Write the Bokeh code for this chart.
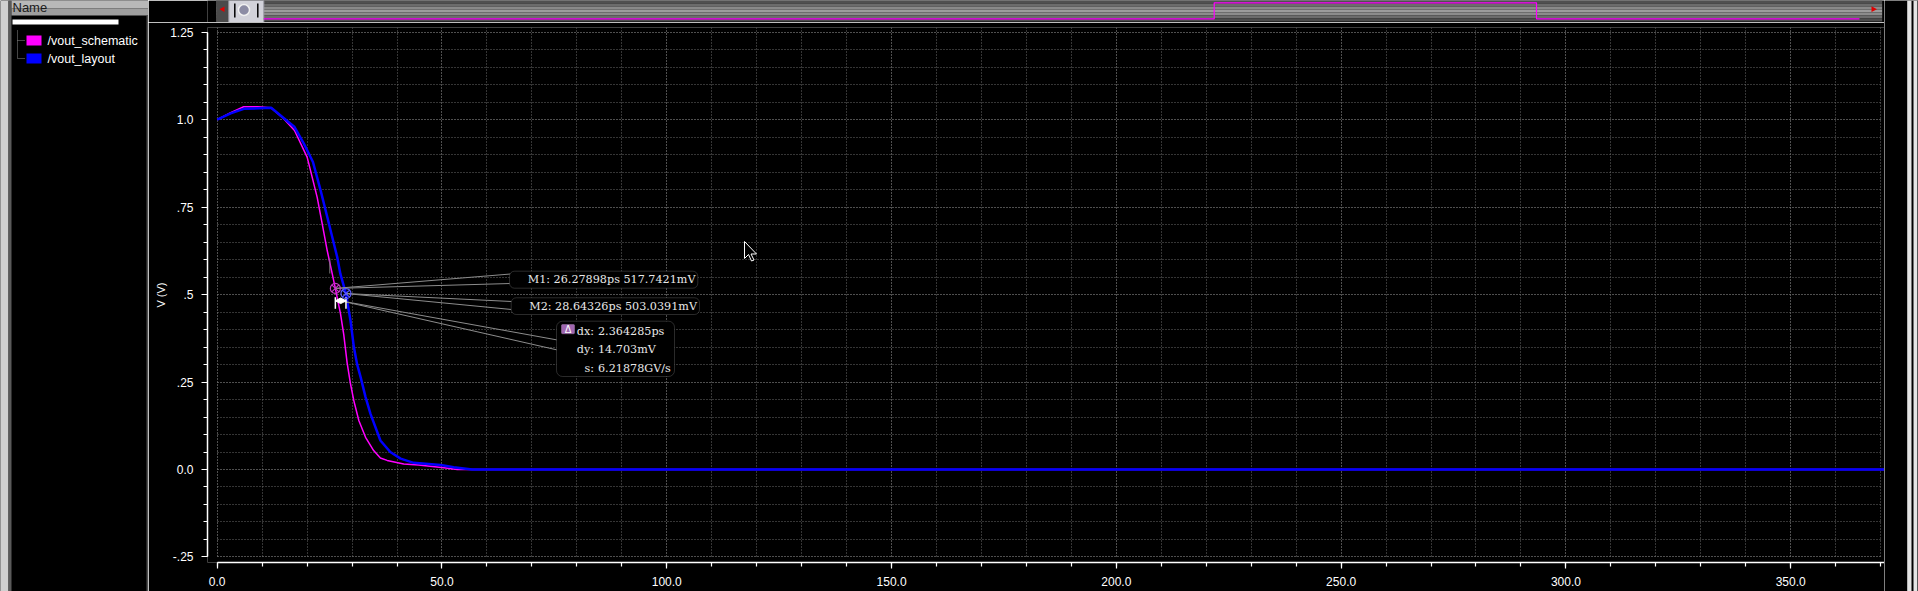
from bokeh.plotting import figure
from bokeh.layouts import row, column
from bokeh.models import Range1d, FixedTicker, BoxAnnotation, Label
from bokeh.embed import file_html
from bokeh.resources import INLINE

# ---------------- data ----------------
series_names = ["/vout_schematic", "/vout_layout"]
series_colors = ["#ff00ff", "#0000ff"]

t_schematic = [0.0, 3.0, 5.9, 9.0, 12.0, 14.8, 17.2, 20.0, 20.75, 22.24, 23.36, 24.47, 25.58, 26.28,
               27.43, 28.16, 28.9, 29.65, 30.39, 31.5, 33.0, 34.8, 36.3, 37.8, 41.5, 44.8, 50.4, 53.4, 371.0]
v_schematic = [1.0, 1.02, 1.037, 1.037, 1.034, 1.003, 0.969, 0.893, 0.855, 0.778, 0.702, 0.626, 0.560, 0.518,
               0.445, 0.385, 0.305, 0.245, 0.197, 0.140, 0.092, 0.054, 0.033, 0.026, 0.016, 0.013, 0.005, 0.0, 0.0]

t_layout = [0.0, 3.0, 5.9, 12.0, 17.2, 19.3, 21.3, 23.0, 24.5, 25.6, 26.7, 27.4, 28.64, 29.65, 30.4, 31.1,
            31.9, 33.0, 34.1, 36.3, 38.5, 40.8, 43.7, 49.7, 52.6, 56.7, 371.0]
v_layout = [1.0, 1.018, 1.031, 1.034, 0.979, 0.931, 0.879, 0.798, 0.721, 0.664, 0.607, 0.559, 0.503, 0.426,
            0.350, 0.302, 0.264, 0.207, 0.159, 0.083, 0.050, 0.031, 0.019, 0.013, 0.0066, 0.0, 0.0]

marker_t = [26.27898, 28.64326]
marker_v = [0.5177421, 0.5030391]
marker_labels = ["M1: 26.27898ps 517.7421mV", "M2: 28.64326ps 503.0391mV"]
delta_keys = ["dx:", "dy:", "s:"]
delta_vals = ["2.364285ps", "14.703mV", "6.21878GV/s"]

x_major = [0, 50, 100, 150, 200, 250, 300, 350]
x_labels = ["0.0", "50.0", "100.0", "150.0", "200.0", "250.0", "300.0", "350.0"]
x_minor = [0, 10, 20, 30, 40, 50, 60, 70, 80, 90, 100, 110, 120, 130, 140, 150, 160, 170, 180, 190,
           200, 210, 220, 230, 240, 250, 260, 270, 280, 290, 300, 310, 320, 330, 340, 350, 360, 370]
y_major = [-0.25, 0.0, 0.25, 0.5, 0.75, 1.0, 1.25]
y_labels = ["-.25", "0.0", ".25", ".5", ".75", "1.0", "1.25"]
y_minor = [-0.25, -0.2, -0.15, -0.1, -0.05, 0.0, 0.05, 0.1, 0.15, 0.2, 0.25, 0.3, 0.35, 0.4, 0.45, 0.5,
           0.55, 0.6, 0.65, 0.7, 0.75, 0.8, 0.85, 0.9, 0.95, 1.0, 1.05, 1.1, 1.15, 1.2, 1.25]
y_axis_label = "V (V)"

# ---------------- layout constants (page pixels) ----------------
TOTAL_W, TOTAL_H = 1918, 591
LEFT_W = 148
FRAME_L, FRAME_R = 207, 1884
RIGHT_W = TOTAL_W - FRAME_R
MAIN_W = FRAME_R - LEFT_W
STRIP_H = 22
MAIN_H = TOTAL_H - STRIP_H
B_L, B_R, B_T, B_B = FRAME_L - LEFT_W, 0, 5, 29
FRAME_W = MAIN_W - B_L - B_R
FRAME_H = MAIN_H - B_T - B_B
PX_PER_PS = 4.4957
PX_PER_V = 349.8
X_ZERO_PX = 216.7
Y_ZERO_PX = 469.0
X0 = (FRAME_L - X_ZERO_PX) / PX_PER_PS
X1 = X0 + FRAME_W / PX_PER_PS
FRAME_B = STRIP_H + B_T + FRAME_H
Y0 = (Y_ZERO_PX - FRAME_B) / PX_PER_V
Y1 = Y0 + FRAME_H / PX_PER_V
SX = PX_PER_PS
SY = PX_PER_V

SERIF = "DejaVu Serif"
SANS = "Liberation Sans"


def ref_xy(px, py):
    # page pixel -> data coordinates (annotation placement only)
    return ((px - X_ZERO_PX) / PX_PER_PS, (Y_ZERO_PX - py) / PX_PER_V)


def js_key(v):
    f = float(v)
    return str(int(f)) if f.is_integer() else repr(f)


def overrides(ticks, labels):
    d = {}
    for t, l in zip(ticks, labels):
        d[float(t)] = l
        d[js_key(t)] = l
    return d


def rbox(fig, radius, **kw):
    try:
        b = BoxAnnotation(border_radius=radius, **kw)
    except Exception:
        b = BoxAnnotation(**kw)
    fig.add_layout(b)
    return b


def blank(width, height, xr, yr, left=0):
    return figure(width=width, height=height, x_range=Range1d(*xr), y_range=Range1d(*yr),
                  x_axis_type=None, y_axis_type=None, output_backend="svg", toolbar_location=None,
                  tools="", min_border=0, min_border_left=left, min_border_right=0,
                  min_border_top=0, min_border_bottom=0,
                  background_fill_color="black", border_fill_color="black", outline_line_color=None)


# ---------------- main plot ----------------
p = figure(width=MAIN_W, height=MAIN_H, x_range=Range1d(X0, X1), y_range=Range1d(Y0, Y1),
           output_backend="svg", toolbar_location=None, tools="",
           min_border_left=B_L, min_border_right=B_R, min_border_top=B_T, min_border_bottom=B_B,
           background_fill_color="black", border_fill_color="black", outline_line_color=None)

xa = p.xaxis[0]
ya = p.yaxis[0]
xa.ticker = FixedTicker(ticks=x_major, minor_ticks=x_minor)
ya.ticker = FixedTicker(ticks=y_major, minor_ticks=y_minor)
xa.major_label_overrides = overrides(x_major, x_labels)
ya.major_label_overrides = overrides(y_major, y_labels)
for ax in (xa, ya):
    ax.axis_line_color = "white"
    ax.axis_line_width = 1.5
    ax.major_tick_line_color = "white"
    ax.minor_tick_line_color = "white"
    ax.major_tick_line_width = 1.2
    ax.minor_tick_line_width = 1.2
    ax.major_tick_in = 0
    ax.major_tick_out = 6
    ax.minor_tick_in = 0
    ax.minor_tick_out = 4
    ax.major_label_text_color = "white"
    ax.major_label_text_font = SANS
    ax.major_label_text_font_size = "12px"
    ax.major_label_standoff = 8
xa.bounds = (0, X1)
ya.bounds = (-0.25, 1.25)
ya.axis_label = y_axis_label
ya.axis_label_text_color = "white"
ya.axis_label_text_font = SANS
ya.axis_label_text_font_size = "11px"
ya.axis_label_text_font_style = "normal"
ya.axis_label_standoff = 0

for g in (p.xgrid[0], p.ygrid[0]):
    g.grid_line_color = "#6a6a6a"
    g.grid_line_dash = "1 2"
    g.grid_line_width = 1
    g.minor_grid_line_color = "#6a6a6a"
    g.minor_grid_line_dash = "1 2"
    g.minor_grid_line_width = 1
p.xgrid[0].bounds = (0, 370)
p.ygrid[0].bounds = (-0.25, 1.25)
try:
    p.xgrid[0].cross_bounds = (-0.25, Y1)
    p.ygrid[0].cross_bounds = (0, 370)
except Exception:
    pass

# waveforms
p.line(t_schematic, v_schematic, line_color=series_colors[0], line_width=1.5)
p.line(t_layout, v_layout, line_color=series_colors[1], line_width=2.5)

# small grey stub left of the markers
gx, gy0 = ref_xy(329.3, 258.0)
_, gy1 = ref_xy(329.3, 273.0)
p.segment(x0=[gx], y0=[gy0], x1=[gx], y1=[gy1], line_color="#7a7a7a", line_width=1)

# leader lines
lead_x0, lead_y0, lead_x1, lead_y1 = [], [], [], []
for (mx, my), ends in zip(zip(marker_t, marker_v),
                          [[(510, 273.5), (510, 283.0)], [(511, 301.0), (511, 309.0)]]):
    for ex, ey in ends:
        dx, dy = ref_xy(ex, ey)
        lead_x0.append(mx); lead_y0.append(my); lead_x1.append(dx); lead_y1.append(dy)
ox, oy = ref_xy(341.0, 300.5)
for ex, ey in [(557, 339.5), (557, 349.5)]:
    dx, dy = ref_xy(ex, ey)
    lead_x0.append(ox); lead_y0.append(oy); lead_x1.append(dx); lead_y1.append(dy)
p.segment(x0=lead_x0, y0=lead_y0, x1=lead_x1, y1=lead_y1, line_color="#8c8c8c", line_width=1)

# white delta tick marks and diamond
_, tk_top = ref_xy(0, 296.7)
_, tk_bot = ref_xy(0, 308.3)
p.segment(x0=marker_t, y0=[tk_top] * 2, x1=marker_t, y1=[tk_bot] * 2, line_color="white", line_width=1.5)
_, dm_y = ref_xy(0, 300.3)
dm_x = sum(marker_t) / 2
p.patch([dm_x - 5.5 / SX, dm_x, dm_x + 5.5 / SX, dm_x],
        [dm_y, dm_y + 2.8 / SY, dm_y, dm_y - 2.8 / SY], fill_color="white", line_color="white")

# marker circles
p.scatter(marker_t, marker_v, marker="circle_x", size=10, fill_color=None,
          line_color=["#c23bc2", "#5a5aff"], line_width=1.2)

# cursor arrow
tx, ty = ref_xy(744, 241)
arrow = [(0, 0), (0, 17), (4, 13), (7, 19.5), (9.5, 18.5), (6.5, 12.5), (12, 12.5)]
p.patch([tx + a / SX for a, b in arrow], [ty - b / SY for a, b in arrow],
        fill_color="black", line_color="white", line_width=1)

# marker label boxes
box_specs = [((509, 270.7), (697.3, 287.7)), ((510.7, 297.3), (699, 314))]
text_specs = [(695.0, 279.2), (696.5, 305.8)]
for (b0, b1), (txp, typ), txt in zip(box_specs, text_specs, marker_labels):
    l, t = ref_xy(*b0)
    r, b = ref_xy(*b1)
    rbox(p, 5, left=l, right=r, top=t, bottom=b, fill_color="black", fill_alpha=1.0,
         line_color="#8c8c8c", line_width=1)
    lx, ly = ref_xy(txp, typ)
    p.add_layout(Label(x=lx, y=ly, text=txt, text_font=SERIF, text_font_size="11.2px",
                       text_color="#e8e8e8", text_align="right", text_baseline="middle"))

# delta box
l, t = ref_xy(556, 320.7)
r, b = ref_xy(674, 376)
rbox(p, 6, left=l, right=r, top=t, bottom=b, fill_color="black", fill_alpha=1.0,
     line_color="#8c8c8c", line_width=1)
l, t = ref_xy(561, 324)
r, b = ref_xy(574, 333.3)
rbox(p, 1, left=l, right=r, top=t, bottom=b, fill_color="#a066b0", fill_alpha=1.0,
     line_color="#d6b0e0", line_width=1)
ix, iy = ref_xy(567.5, 328.8)
p.add_layout(Label(x=ix, y=iy, text="\u0394", text_font=SANS, text_font_size="10px",
                   text_color="white", text_align="center", text_baseline="middle"))
for key, val, ry in zip(delta_keys, delta_vals, [330.7, 349.3, 368.3]):
    kx, ky = ref_xy(593.5, ry)
    vx, _ = ref_xy(597.5, ry)
    p.add_layout(Label(x=kx, y=ky, text=key, text_font=SERIF, text_font_size="11.2px",
                       text_color="#e8e8e8", text_align="right", text_baseline="middle"))
    p.add_layout(Label(x=vx, y=ky, text=val, text_font=SERIF, text_font_size="11.2px",
                       text_color="#e8e8e8", text_align="left", text_baseline="middle"))

# ---------------- top overview strip (frame aligned with the main plot frame) ----------------
s = blank(MAIN_W, STRIP_H, (FRAME_L, FRAME_R), (STRIP_H, 0), left=B_L)
band_y = [0, 3, 6, 9, 12, 15, 18]
band_c = ["#505050", "#6c6c6c", "#8a8a8a", "#9c9c9c", "#8c8c8c", "#6c6c6c", "#4c4c4c"]
s.quad(left=[215.7] * len(band_y), right=[1881.7] * len(band_y), top=band_y,
       bottom=[min(y + 3, 21.7) for y in band_y], fill_color=band_c, line_color=None)
s.quad(left=[215.7], right=[228.3], top=[0], bottom=[21.7], fill_color="#4a4a4a", line_color=None)
s.patch([219.0, 224.0, 224.0], [8.7, 6.0, 11.4], fill_color="#e00000", line_color=None)
s.patch([1876.5, 1871.0, 1871.0], [8.7, 5.8, 11.6], fill_color="#e00000", line_color=None)
s.quad(left=[228.3], right=[263.3], top=[0], bottom=[22], fill_color="#d2d2da", line_color="#9a9aa4")
s.segment(x0=[234.3, 257.3], y0=[3, 3], x1=[234.3, 257.3], y1=[17, 17], line_color="black", line_width=1.5)
s.scatter([243.5], [9.5], marker="circle", size=11, fill_color="#8c8ca4", line_color="#f0f0f0", line_width=1.5)
s.line([263.3, 1213.7, 1213.7, 1536.0, 1536.0, 1859.0], [18.3, 18.3, 2.3, 2.3, 18.3, 18.3],
       line_color="#ff00ff", line_width=1.2)

# ---------------- left name panel ----------------
lf = blank(LEFT_W, TOTAL_H, (0, LEFT_W), (TOTAL_H, 0))
lf.quad(left=[0], right=[8], top=[0], bottom=[TOTAL_H], fill_color="#d0d0d0", line_color=None)
lf.quad(left=[8], right=[11], top=[0], bottom=[TOTAL_H], fill_color="#5a5a5a", line_color=None)
lf.quad(left=[11, 11], right=[148, 148], top=[0, 8], bottom=[8, 15], fill_color=["#b8b8b8", "#9e9e9e"],
        line_color=None)
lf.add_layout(Label(x=12, y=7, text="Name", text_font=SANS, text_font_size="13px",
                    text_color="#1a1a1a", text_align="left", text_baseline="alphabetic"))
rbox(lf, 2.5, left=12, right=118, top=19, bottom=24, fill_color="white", fill_alpha=1.0, line_color=None)
lf.segment(x0=[17, 17, 17], y0=[30, 40, 58], x1=[17, 25, 25], y1=[58, 40, 58], line_color="#8a8a8a",
           line_dash="1 1", line_width=1)
for i, (nm, col) in enumerate(zip(series_names, series_colors)):
    yc = 40 + 18 * i
    lf.quad(left=[26], right=[41], top=[yc - 5], bottom=[yc + 5], fill_color=col, line_color=None)
    lf.add_layout(Label(x=47, y=yc, text=nm, text_font=SANS, text_font_size="12.5px",
                        text_color="white", text_align="left", text_baseline="middle"))
lf.quad(left=[146], right=[148], top=[15], bottom=[TOTAL_H], fill_color="#505050", line_color=None)

# ---------------- right edge ----------------
rf = blank(RIGHT_W, TOTAL_H, (FRAME_R, TOTAL_W), (TOTAL_H, 0))
rf.quad(left=[1906.7, 1913.0], right=[1911.0, 1917.0], top=[0, 0], bottom=[TOTAL_H, TOTAL_H],
        fill_color=["#e4e4e4", "#e4e4e4"], line_color=None)
rf.quad(left=[1917.0], right=[1918.0], top=[0], bottom=[TOTAL_H], fill_color="#404040", line_color=None)

layout = row(lf, column(s, p, spacing=0), rf, spacing=0)

open("out.html", "w").write(file_html(layout, INLINE))
